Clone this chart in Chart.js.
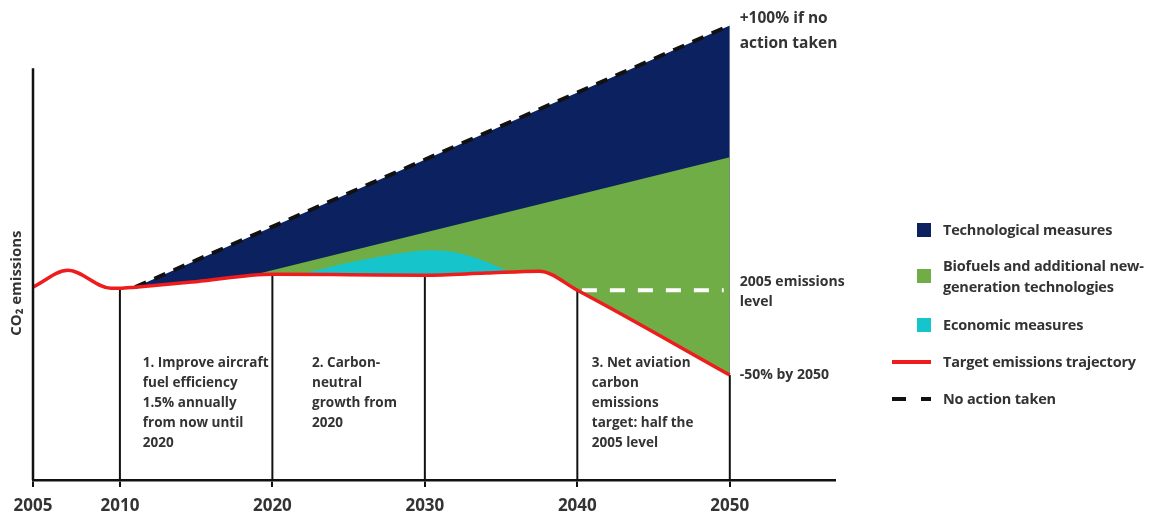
<!DOCTYPE html>
<html>
<head>
<meta charset="utf-8">
<script src="https://cdn.jsdelivr.net/npm/chart.js@4/dist/chart.umd.min.js"></script>
<style>
  html, body { margin: 0; padding: 0; background: #fff; }
  #wrap { position: relative; width: 1154px; height: 518px; font-family: "Open Sans", sans-serif; color: #333; }
  #chart { position: absolute; left: 0; top: 0; }
  .item { position: absolute; left: 892px; display: flex; align-items: center; font-weight: bold; font-size: 14.5px; line-height: 21px; letter-spacing: -0.2px; }
  .swatch { width: 14px; height: 14px; margin-left: 25px; margin-right: 12px; }
  .redline { width: 39px; height: 4px; background: #ee1c1c; margin-right: 12px; }
  .dashes { width: 39px; height: 4px; margin-right: 12px; background: linear-gradient(to right, #111 0 14px, transparent 14px 29px, #111 29px 39px); }
</style>
</head>
<body>
<div id="wrap">
  <canvas id="chart"></canvas>
  <div class="item" style="top:219px"><span class="swatch" style="background:#0c2160"></span>Technological measures</div>
  <div class="item" style="top:255px"><span class="swatch" style="background:#70ad47"></span>Biofuels and additional new-<br>generation technologies</div>
  <div class="item" style="top:314px"><span class="swatch" style="background:#16c5cc"></span>Economic measures</div>
  <div class="item" style="top:351px"><span class="redline"></span>Target emissions trajectory</div>
  <div class="item" style="top:388px"><span class="dashes"></span>No action taken</div>
</div>
<script>
const tickYears = [2004.3, 2010, 2020, 2030, 2040, 2050];
const tickLabels = ['2005', '2010', '2020', '2030', '2040', '2050'];

// index, 2005 level = 100
const targetYears = [2004.3, 2006.6, 2009.4, 2010, 2011, 2015, 2020, 2025, 2030, 2034, 2037.5, 2040, 2050];
const targetValues = [101.6, 110.5, 101, 101, 101.6, 104.5, 108.4, 108.2, 107.9, 109, 110, 100, 55.3];

const noActionYears = [2011, 2050];
const noActionValues = [101.6, 239.5];

const biofuelYears = [2018.2, 2050];
const biofuelValues = [107, 170];

const economicYears = [2021.8, 2025.1, 2028.4, 2030.3, 2031.6, 2033.4, 2035.6];
const economicValues = [108.3, 114.7, 119.5, 121.1, 120.5, 116.8, 109.5];

const levelYears = [2040.3, 2049.6];
const levelValues = [100, 100];

const markerYears = [2010, 2020, 2030, 2040, 2050];
const markerTops = [101, 108.4, 107.9, 100, 55.3];

const yAxisTop = 217;

const pts = (xs, ys) => xs.map((x, i) => ({ x: x, y: ys[i] }));

const notes = [
  { year: 2011.5, value: 61.6, lines: ['1. Improve aircraft', 'fuel efficiency', '1.5% annually', 'from now until', '2020'] },
  { year: 2022.6, value: 61.6, lines: ['2. Carbon-', 'neutral', 'growth from', '2020'] },
  { year: 2040.95, value: 61.6, lines: ['3. Net aviation', 'carbon', 'emissions', 'target: half the', '2005 level'] },
  { year: 2050.65, value: 243.2, lines: ['+100% if no', 'action taken'], size: 15.5, gap: 25 },
  { year: 2050.65, value: 104.2, lines: ['2005 emissions', 'level'], size: 14 },
  { year: 2050.65, value: 55.3, lines: ['-50% by 2050'], size: 14 }
];

const overlay = {
  id: 'overlay',
  afterDatasetsDraw(chart) {
    const { ctx, scales: { x, y } } = chart;
    ctx.save();
    ctx.strokeStyle = '#111';
    ctx.lineWidth = 2.5;
    ctx.beginPath();
    ctx.moveTo(x.left, y.getPixelForValue(0));
    ctx.lineTo(x.left, y.getPixelForValue(yAxisTop));
    ctx.stroke();

    ctx.fillStyle = '#333';
    ctx.textBaseline = 'middle';
    ctx.textAlign = 'left';
    notes.forEach(n => {
      ctx.font = 'bold ' + (n.size || 13.5) + 'px "Open Sans"';
      const px = x.getPixelForValue(n.year);
      const py = y.getPixelForValue(n.value);
      n.lines.forEach((t, i) => ctx.fillText(t, px, py + i * (n.gap || 20)));
    });

    ctx.translate(17, y.getPixelForValue(103.7));
    ctx.rotate(-Math.PI / 2);
    ctx.textAlign = 'center';
    ctx.font = 'bold 15px "Open Sans"';
    ctx.fillText('CO₂ emissions', 0, 0);
    ctx.restore();
  }
};

const markerSets = markerYears.map((yr, i) => ({
  data: [{ x: yr, y: 0 }, { x: yr, y: markerTops[i] }],
  borderColor: '#111', borderWidth: 2, fill: false, order: 5
}));

new Chart(document.getElementById('chart'), {
  type: 'line',
  data: {
    datasets: [
      { data: pts(targetYears, targetValues), borderColor: '#ee1c1c', borderWidth: 3.5, cubicInterpolationMode: 'monotone', fill: false, order: 1 },
      { data: pts(noActionYears, noActionValues), borderColor: '#111', borderWidth: 4, borderDash: [12, 9], backgroundColor: '#0c2160', fill: 0, order: 10 },
      { data: pts(biofuelYears, biofuelValues), borderWidth: 0, backgroundColor: '#70ad47', fill: 0, order: 9 },
      { data: pts(economicYears, economicValues), borderWidth: 0, backgroundColor: '#16c5cc', cubicInterpolationMode: 'monotone', fill: 0, order: 8 },
      { data: pts(levelYears, levelValues), borderColor: '#fff', borderWidth: 4, borderDash: [15, 13], fill: false, order: 7 },
      ...markerSets
    ]
  },
  options: {
    responsive: true,
    maintainAspectRatio: false,
    animation: false,
    layout: { padding: { left: 33, right: 319, top: 15, bottom: -8 } },
    elements: { point: { radius: 0 } },
    plugins: { legend: { display: false }, tooltip: { enabled: false } },
    scales: {
      x: {
        type: 'linear', min: 2004.3, max: 2056.9,
        afterBuildTicks: s => { s.ticks = tickYears.map(v => ({ value: v })); },
        ticks: { callback: (v, i) => tickLabels[i], color: '#333', font: { family: 'Open Sans', size: 17, weight: 'bold', lineHeight: 1 }, padding: 11, maxRotation: 0, autoSkip: false },
        grid: { drawOnChartArea: false, drawTicks: true, tickLength: 7, color: '#111', lineWidth: 2 },
        border: { color: '#111', width: 2.5 }
      },
      y: { display: false, min: 0, max: 245 }
    }
  },
  plugins: [overlay]
});
</script>
</body>
</html>
